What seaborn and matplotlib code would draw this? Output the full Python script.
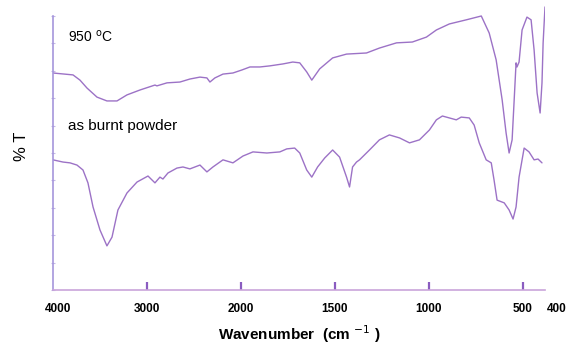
import numpy as np
import pandas as pd
import matplotlib
matplotlib.use("Agg")
import matplotlib.pyplot as plt
import matplotlib.transforms as mtransforms
import seaborn as sns

# ---- data ----
wn_950 = [4000, 3787, 3713, 3638, 3532, 3426, 3319, 3213, 3074, 2915, 2894, 2787,
          2649, 2543, 2436, 2362, 2330, 2277, 2191, 2085, 1995, 1952, 1899, 1846,
          1777, 1724, 1687, 1650, 1623, 1581, 1538, 1512, 1438, 1332, 1263, 1172,
          1088, 1013, 960, 891, 801, 721, 679, 642, 610, 589, 573, 557, 546, 536,
          531, 520, 504, 478, 456, 440, 424, 408, 398, 392, 382]
t_950 = [79.2, 78.5, 76.6, 73.7, 70.4, 69.0, 69.0, 71.2, 73.0, 74.8, 74.5, 75.6,
         75.9, 77.0, 77.7, 77.4, 75.9, 77.4, 78.8, 79.2, 80.3, 81.4, 81.4, 81.8,
         82.5, 83.2, 82.9, 79.6, 76.6, 80.7, 83.2, 84.7, 86.1, 86.5, 88.3, 90.2,
         90.5, 92.3, 94.9, 97.1, 98.6, 100.0, 93.8, 84.0, 69.4, 57.3, 50.0, 54.8, 69.4, 82.9,
         81.4, 83.2, 94.9, 99.6, 98.6, 87.6, 71.9, 64.6, 75.6, 90.2, 103.3]

wn_burnt = [4000, 3894, 3819, 3745, 3681, 3628, 3574, 3500, 3426, 3372, 3309, 3213,
            3106, 2989, 2915, 2862, 2830, 2777, 2681, 2617, 2543, 2436, 2362, 2298,
            2191, 2085, 1989, 1936, 1862, 1793, 1756, 1714, 1687, 1650, 1623, 1592,
            1554, 1512, 1475, 1438, 1422, 1406, 1385, 1369, 1316, 1263, 1210, 1156,
            1103, 1050, 997, 960, 928, 891, 854, 828, 785, 759, 732, 695, 668, 653,
            637, 599, 573, 552, 536, 520, 493, 467, 440, 419, 398]
t_burnt = [47.5, 46.7, 46.4, 45.6, 43.8, 39.1, 30.3, 21.9, 16.1, 19.3, 29.2, 35.4,
           39.4, 41.6, 39.1, 41.2, 40.5, 42.7, 44.5, 44.9, 44.2, 45.6, 43.1, 44.9,
           47.5, 46.4, 48.9, 50.4, 50.0, 50.4, 51.5, 51.8, 50.0, 43.8, 41.2, 44.9,
           48.2, 51.1, 48.5, 41.2, 37.6, 44.9, 46.7, 47.5, 51.1, 54.8, 56.6, 55.5,
           53.7, 54.8, 58.4, 62.1, 63.5, 62.8, 62.1, 63.1, 62.8, 60.2, 53.7, 47.5, 46.4, 40.1,
           32.8, 31.8, 29.2, 25.9, 30.3, 41.2, 51.8, 50.4, 47.5, 47.8, 46.4]

tick_vals = [4000, 3000, 2000, 1500, 1000, 500, 400]
tick_labels = ["4000", "3000", "2000", "1500", "1000", "500", "400"]
label_950 = "950 $^{\\mathrm{o}}$C"
label_burnt = "as burnt powder"

df = pd.concat([
    pd.DataFrame({"wn": wn_950, "T": t_950, "sample": "950"}),
    pd.DataFrame({"wn": wn_burnt, "T": t_burnt, "sample": "burnt"}),
])

sns.set_theme(style="white")
plt.rcParams["font.family"] = ["Liberation Sans", "DejaVu Sans"]
plt.rcParams["text.color"] = "black"
plt.rcParams["axes.labelcolor"] = "black"
plt.rcParams["xtick.color"] = "black"

line_col = "#9c72c6"
fig = plt.figure(figsize=(5.69, 3.46), dpi=100)
ax = fig.add_axes([53 / 569, 56 / 346, (545 - 53) / 569, 287.7 / 346])


def fwd(x):
    x = np.asarray(x, dtype=float)
    return np.where(x >= 2000, x, 2000 + (x - 2000) * 2)


def inv(y):
    y = np.asarray(y, dtype=float)
    return np.where(y >= 2000, y, 2000 + (y - 2000) / 2)


ax.set_xscale("function", functions=(fwd, inv))

sns.lineplot(data=df, x="wn", y="T", units="sample", estimator=None, sort=False,
             color=line_col, linewidth=1.0, ax=ax, legend=False)

ax.set_xlim(4000, 382)
ax.set_ylim(0, 105)

for s in ["top", "right"]:
    ax.spines[s].set_visible(False)
ax.spines["left"].set_color("#a596dc")
ax.spines["left"].set_linewidth(1.2)
ax.spines["left"].set_bounds(0, 100)
ax.spines["bottom"].set_color("#c9a4da")
ax.spines["bottom"].set_linewidth(1.2)

ax.set_xticks(tick_vals)
ax.set_xticklabels(tick_labels, fontsize=8.5, fontweight="bold", color="black")
ax.tick_params(axis="x", bottom=True, direction="in", length=6, width=1.6,
               color="#8a5cc0", labelcolor="black", pad=9)
ticks = ax.xaxis.get_major_ticks()
ticks[0].tick1line.set_visible(False)
ticks[-1].tick1line.set_visible(False)
labs = ax.get_xticklabels()
labs[0].set_transform(labs[0].get_transform() + mtransforms.ScaledTranslation(5 / 100, 0, fig.dpi_scale_trans))
labs[-1].set_transform(labs[-1].get_transform() + mtransforms.ScaledTranslation(15 / 100, 0, fig.dpi_scale_trans))

ax.set_yticks(np.arange(0, 101, 10))
ax.set_yticklabels([])
ax.tick_params(axis="y", left=True, direction="inout", length=3, width=0.8, color="#c4b8e6")

ax.set_xlabel("Wavenumber  (cm $^{-1}$ )", fontsize=11, fontweight="bold", labelpad=6, color="black")
ax.set_ylabel("% T", fontsize=12, labelpad=12, color="black")

fig.text(68 / 569, 1 - 37 / 346, label_950, fontsize=10, va="center", ha="left", color="black")
fig.text(68 / 569, 1 - 126 / 346, label_burnt, fontsize=11, va="center", ha="left", color="black")

fig.savefig("out.png", dpi=100)
